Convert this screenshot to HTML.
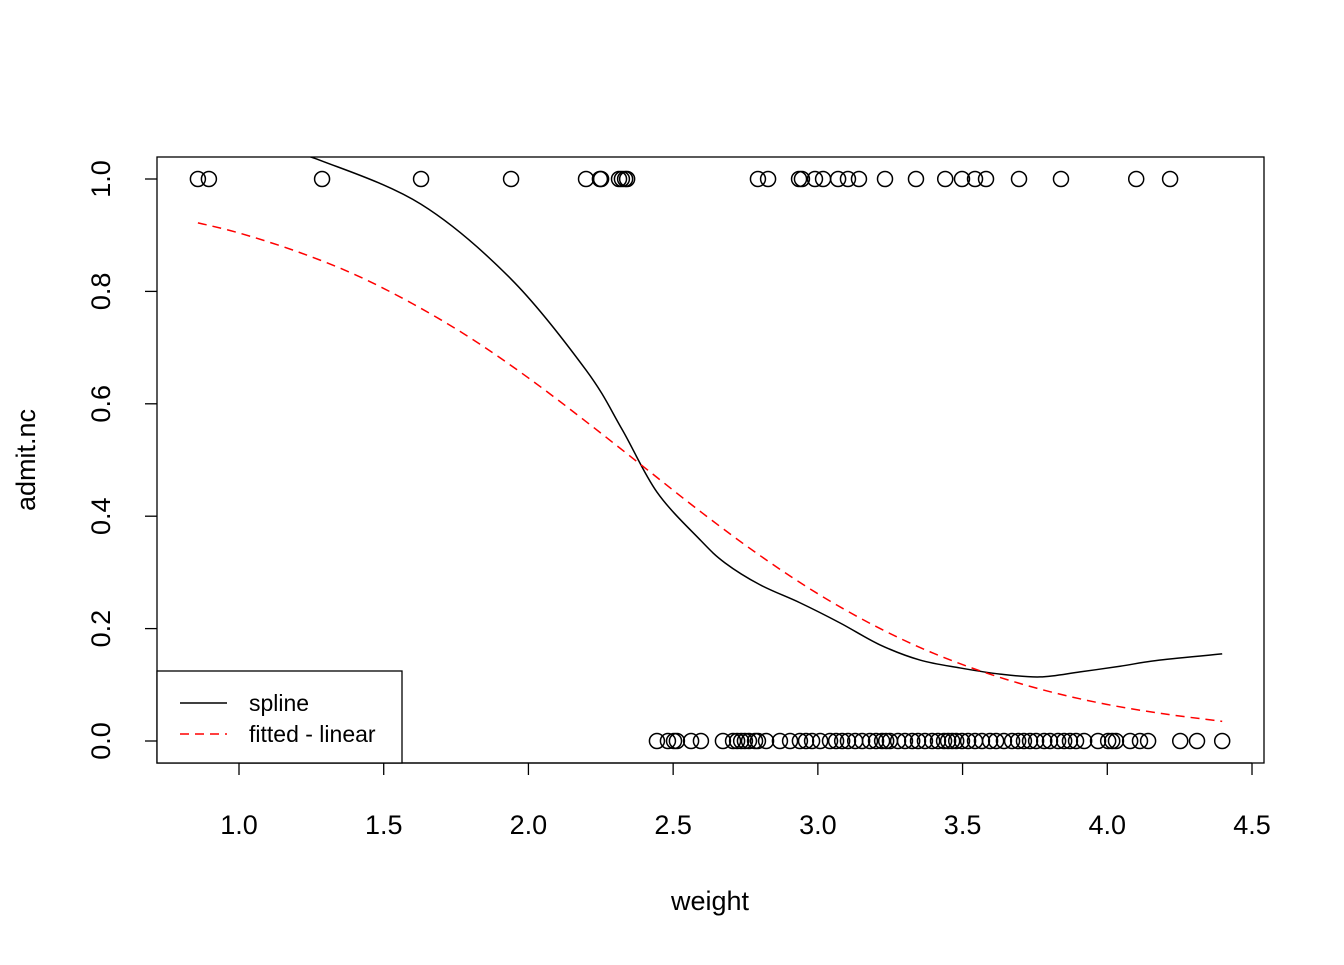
<!DOCTYPE html>
<html><head><meta charset="utf-8"><style>
body{margin:0;background:#fff}
svg text{font-family:"Liberation Sans",Arial,sans-serif;fill:#000}
</style></head><body>
<svg id="c" width="1344" height="960" viewBox="0 0 1344 960"></svg>
<script>
const topW=[0.858,0.896,1.287,1.629,1.94,2.199,2.247,2.251,2.313,2.323,2.334,2.341,2.793,2.828,2.935,2.945,2.99,3.018,3.07,3.104,3.142,3.232,3.339,3.44,3.498,3.543,3.581,3.695,3.84,4.10,4.217];
const botW=[2.444,2.482,2.503,2.513,2.562,2.596,2.672,2.707,2.721,2.735,2.748,2.762,2.783,2.793,2.821,2.869,2.904,2.938,2.959,2.980,3.008,3.042,3.063,3.084,3.104,3.129,3.153,3.180,3.201,3.222,3.236,3.249,3.277,3.301,3.326,3.346,3.370,3.395,3.415,3.436,3.450,3.464,3.478,3.498,3.519,3.543,3.567,3.595,3.616,3.643,3.671,3.692,3.712,3.733,3.754,3.782,3.802,3.830,3.851,3.871,3.892,3.920,3.968,4.003,4.017,4.030,4.079,4.113,4.141,4.252,4.310,4.397];
const splineX=[0.858,1.0,1.1,1.287,1.629,1.94,2.199,2.323,2.444,2.593,2.679,2.80,2.938,3.077,3.215,3.353,3.491,3.63,3.768,3.906,4.044,4.18,4.397];
const splineY=[1.09,1.075,1.06,1.032,0.955,0.822,0.66,0.555,0.443,0.358,0.317,0.278,0.246,0.21,0.171,0.144,0.13,0.119,0.114,0.123,0.133,0.144,0.155];
const fitX=[0.858,1.0,1.2,1.4,1.6,1.8,2.0,2.2,2.4,2.6,2.8,3.0,3.2,3.4,3.6,3.8,4.0,4.2,4.397];
const fitY=[0.922,0.904,0.871,0.830,0.778,0.717,0.646,0.568,0.487,0.406,0.330,0.262,0.204,0.156,0.118,0.088,0.065,0.048,0.035];
const xTicks=["1.0","1.5","2.0","2.5","3.0","3.5","4.0","4.5"];
const yTicks=["0.0","0.2","0.4","0.6","0.8","1.0"];
const NS="http://www.w3.org/2000/svg";
const svg=document.getElementById('c');
const sx=v=>239+(v-1)*289.43;
const sy=v=>741-v*562;
function mk(t,a,p){const e=document.createElementNS(NS,t);for(const k in a)e.setAttribute(k,a[k]);(p||svg).appendChild(e);return e;}
function smooth(xs,ys){const P=xs.map((x,i)=>[sx(x),sy(ys[i])]);let d='M'+P[0][0]+','+P[0][1];
 for(let i=0;i<P.length-1;i++){const p0=P[Math.max(0,i-1)],p1=P[i],p2=P[i+1],p3=P[Math.min(P.length-1,i+2)];
  const c1=[p1[0]+(p2[0]-p0[0])/6,p1[1]+(p2[1]-p0[1])/6],c2=[p2[0]-(p3[0]-p1[0])/6,p2[1]-(p3[1]-p1[1])/6];
  d+=` C${c1[0]},${c1[1]} ${c2[0]},${c2[1]} ${p2[0]},${p2[1]}`;}return d;}
const defs=mk('defs',{});const cp=mk('clipPath',{id:'cp'},defs);mk('rect',{x:157,y:157,width:1107,height:606},cp);
const box=mk('rect',{x:157,y:157,width:1107,height:606,fill:'none',stroke:'#000','stroke-width':1.3});


xTicks.forEach(t=>{const v=parseFloat(t);const x=sx(v);
 const l=mk('line',{x1:x,x2:x,y1:763,y2:775,stroke:'#000','stroke-width':1.3});
 
 
 const tx=mk('text',{x:x,y:834,'font-size':27,'text-anchor':'middle'});tx.textContent=t;
 
 });
const xa=mk('line',{x1:sx(1),x2:sx(4.5),y1:763,y2:763,stroke:'#000','stroke-width':1.3});


yTicks.forEach(t=>{const v=parseFloat(t);const y=sy(v);
 const l=mk('line',{x1:145,x2:157,y1:y,y2:y,stroke:'#000','stroke-width':1.3});
 
 
 const tx=mk('text',{x:0,y:0,'font-size':27,'text-anchor':'middle',transform:`translate(110,${y}) rotate(-90)`});tx.textContent=t;
 
 });
const xl=mk('text',{x:710,y:910,'font-size':27,'text-anchor':'middle'});xl.textContent='weight';


const yl=mk('text',{x:0,y:0,'font-size':27,'text-anchor':'middle',transform:'translate(35,460) rotate(-90)'});yl.textContent='admit.nc';


const g=mk('g',{'clip-path':'url(#cp)'});
topW.forEach(w=>{const c=mk('circle',{cx:sx(w),cy:sy(1),r:7.5,fill:'none',stroke:'#000','stroke-width':1.5},g);
 
 });
botW.forEach(w=>{const c=mk('circle',{cx:sx(w),cy:sy(0),r:7.5,fill:'none',stroke:'#000','stroke-width':1.5},g);
 
 });
const sp=mk('path',{d:smooth(splineX,splineY),fill:'none',stroke:'#000','stroke-width':1.5},g);


const fl=mk('path',{d:smooth(fitX,fitY),fill:'none',stroke:'#f00','stroke-width':1.5,'stroke-dasharray':'9 6'},g);


const lg=mk('g',{});


mk('rect',{x:157,y:671,width:245,height:92,fill:'#fff',stroke:'#000','stroke-width':1.3},lg);
mk('line',{x1:180,x2:227,y1:703,y2:703,stroke:'#000','stroke-width':1.5},lg);
mk('line',{x1:180,x2:227,y1:734,y2:734,stroke:'#f00','stroke-width':1.5,'stroke-dasharray':'9 6'},lg);
const t1=mk('text',{x:249,y:711,'font-size':23},lg);t1.textContent='spline';


const t2=mk('text',{x:249,y:742,'font-size':23},lg);t2.textContent='fitted - linear';


</script>
</body></html>
